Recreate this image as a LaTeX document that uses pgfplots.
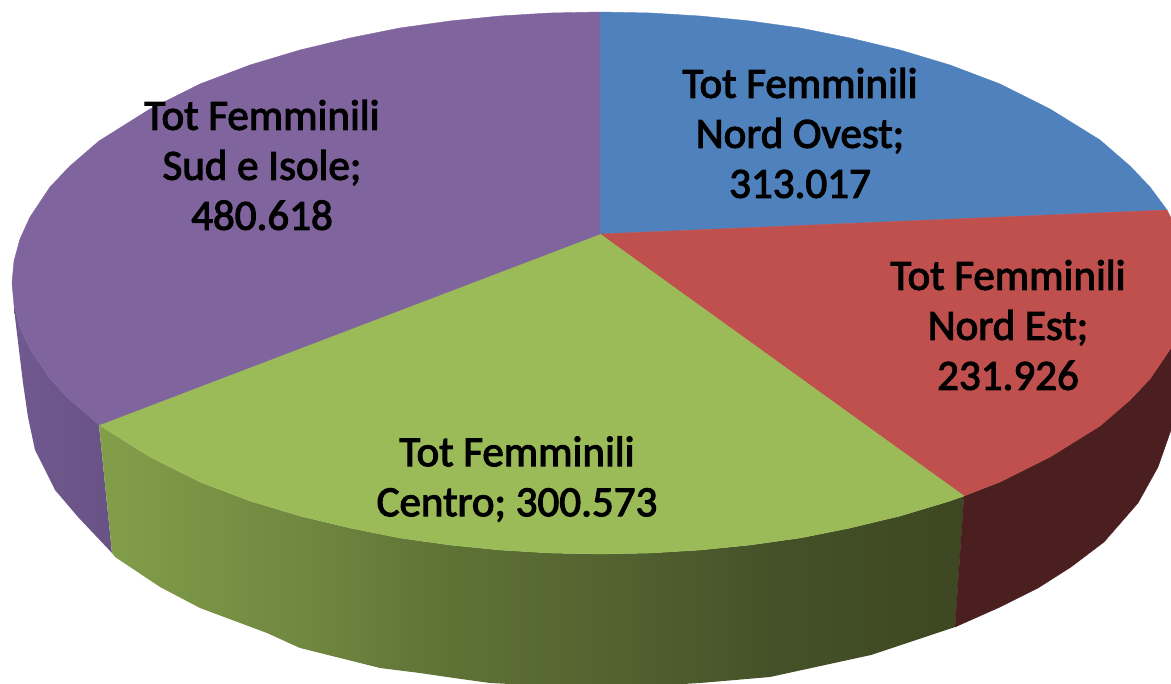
\documentclass[border=0pt]{standalone}
\usepackage{pgfplots}
\pgfplotsset{compat=1.18}
\usepackage{fontspec}
\newfontfamily\lab[FakeBold=2.6]{Carlito}
\definecolor{pblue}{RGB}{79,129,189}
\definecolor{pred}{RGB}{192,80,77}
\definecolor{pgreen}{RGB}{155,187,89}
\definecolor{ppurple}{RGB}{128,100,158}
\definecolor{pmaroon}{RGB}{75,31,31}
\pgfdeclarehorizontalshading{greenside}{100bp}{
 rgb(0bp)=(0.51,0.62,0.29);
 rgb(25bp)=(0.51,0.62,0.29);
 rgb(37bp)=(0.44,0.53,0.25);
 rgb(45bp)=(0.37,0.45,0.21);
 rgb(54bp)=(0.33,0.39,0.19);
 rgb(64bp)=(0.27,0.32,0.16);
 rgb(75bp)=(0.24,0.28,0.13);
 rgb(100bp)=(0.24,0.28,0.13)}
\pgfdeclarehorizontalshading{purpleside}{100bp}{
 rgb(0bp)=(0.44,0.35,0.56);
 rgb(25bp)=(0.44,0.35,0.56);
 rgb(75bp)=(0.41,0.32,0.52);
 rgb(100bp)=(0.41,0.32,0.52)}
\tikzset{lab/.style={font=\lab\fontsize{43}{50}\selectfont, text=black, align=center, anchor=center, inner sep=0pt}}
\begin{document}
\begin{tikzpicture}
\useasboundingbox (0,0) rectangle (1171pt,684pt);
\begin{axis}[
  at={(0,0)}, anchor=south west,
  hide axis, scale only axis, width=1171pt, height=684pt,
  xmin=0, xmax=1171, ymin=0, ymax=684, y dir=reverse,
  clip=true,
  every axis plot/.append style={mark=none, line width=0.4pt}
]
% purple side
\addplot[shade, shading=purpleside, draw=none] coordinates {
(14,305)(20,327)(30,349)(50,379)(70,400)(99,425)(112,553)(78,517)(55,490)(35,450)(28,417)(23,383)(15,317)} --cycle;
% green side
\addplot[shade, shading=greenside, draw=none] coordinates {
(99,425)(150,457)(200,482)(250,501)(300,516)(350,528)(400,538)(450,545)(500,550)(550,553)(600,554)(650,553)(700,550)(750,545)(800,538)(850,528)(900,516)(950,501)(964,496)
(955,627)(871,655)(770,677)(700,683)(650,686)(600,687)(550,686)(490,683)(447,677)(420,673)(380,668)(300,648)(267,633)(200,608)(160,587)(115,557)(112,553)} --cycle;
% red side
\addplot[fill=pmaroon, draw=pmaroon] coordinates {
(964,496)(1000,482)(1050,457)(1100,426)(1130,400)(1150,379)(1171,348)(1171,430)(1158,467)(1138,503)(1104,542)(1071,567)(1038,588)(1000,607)(955,627)} --cycle;
% blue top
\addplot[fill=pblue, draw=pblue] coordinates {
(600,234)(600,12)(650,13)(700,16)(750,21)(800,28)(850,38)(900,50)(950,65)(1000,84)(1050,109)(1100,140)(1130,166)(1150,187)(1167,210)} --cycle;
% red top
\addplot[fill=pred, draw=pred] coordinates {
(600,234)(1167,210)(1171,218)(1171,348)(1150,379)(1130,400)(1100,426)(1050,457)(1000,482)(964,496)} --cycle;
% green top
\addplot[fill=pgreen, draw=pgreen] coordinates {
(600,234)(964,496)(950,501)(900,516)(850,528)(800,538)(750,545)(700,550)(650,553)(600,554)(550,553)(500,550)(450,545)(400,538)(350,528)(300,516)(250,501)(200,482)(150,457)(99,425)} --cycle;
% purple top
\addplot[fill=ppurple, draw=ppurple] coordinates {
(600,234)(99,425)(70,400)(50,379)(30,349)(20,327)(14,305)(12,283)(14,261)(20,239)(30,217)(50,187)(70,166)(99,141)(150,109)(200,84)(250,65)(300,50)(350,38)(400,28)(450,21)(500,16)(550,13)(600,12)} --cycle;
\node[lab] at (axis cs:800,133) {Tot Femminili\\Nord Ovest;\\313.017};
\node[lab] at (axis cs:1008,325) {Tot Femminili\\Nord Est;\\231.926};
\node[lab] at (axis cs:517,479) {Tot Femminili\\Centro; 300.573};
\node[lab] at (axis cs:262,165) {Tot Femminili\\Sud e Isole;\\480.618};
\end{axis}
\end{tikzpicture}
\end{document}
